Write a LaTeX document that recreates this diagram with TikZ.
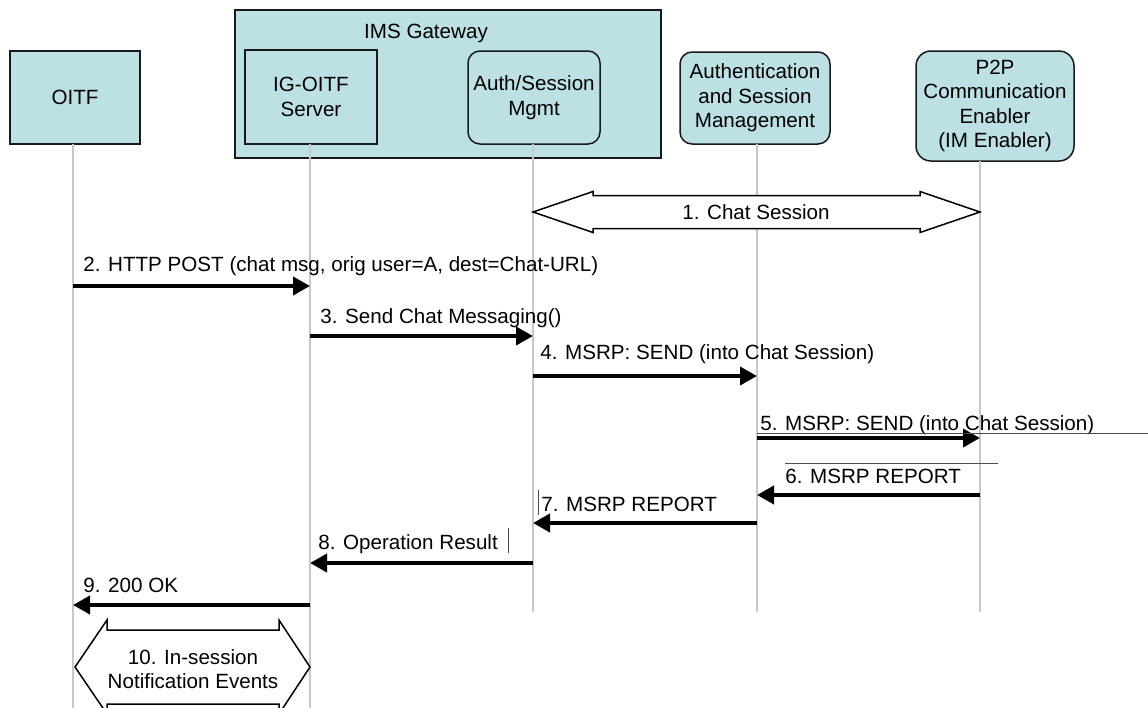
\documentclass[tikz,border=0pt]{standalone}
\usepackage{fontspec}
\setmainfont{Liberation Sans}
\usetikzlibrary{arrows.meta}
\definecolor{boxfill}{RGB}{188,224,228}
\definecolor{lifegray}{RGB}{200,200,200}
\begin{document}
\begin{tikzpicture}[x=0.5pt,y=-0.5pt,
  every node/.style={font=\fontsize{10.3}{12.2}\selectfont},
  entity/.style={draw=black!90,line width=0.75pt,fill=boxfill,align=center,inner sep=0pt},
  rbox/.style={entity,rounded corners=6pt},
  lifeline/.style={draw=lifegray,line width=0.8pt},
  msg/.style={line width=2pt,-{Triangle[length=8.5pt,width=9pt]}},
  lbl/.style={anchor=base west,inner sep=0pt},
  thin/.style={draw=black!70,line width=0.4pt},
  bigarrow/.style={draw=black,line width=0.75pt,fill=white}]
\useasboundingbox (0,0) rectangle (1148,708);
% entities
\node[entity,minimum width=65pt,minimum height=46.5pt] (oitf) at (75,97.5) {OITF};
\node[entity,minimum width=213pt,minimum height=74pt] (imsgw) at (448,84) {};
\node[inner sep=0pt] (imslabel) at (426,33) {IMS Gateway};
\node[entity,minimum width=66pt,minimum height=47pt] (igoitf) at (311,97) {IG-OITF\\Server};
\node[rbox,minimum width=66pt,minimum height=46.5pt] (authgw) at (534,97.5) {Auth/Session\\Mgmt};
\node[rbox,minimum width=75pt,minimum height=46pt] (asm) at (755,98) {Authentication\\and Session\\Management};
\node[rbox,rounded corners=7.5pt,minimum width=79pt,minimum height=55pt] (p2p) at (995,106) {P2P\\Communication\\Enabler\\(IM Enabler)};
% lifeline coordinates
\coordinate (t1) at (73,144);  \coordinate (b1) at (73,708);
\coordinate (t2) at (310,144); \coordinate (b2) at (310,708);
\coordinate (t3) at (533,144); \coordinate (b3) at (533,612);
\coordinate (t4) at (757,144); \coordinate (b4) at (757,612);
\coordinate (t5) at (980,161); \coordinate (b5) at (980,612);
\draw[lifeline] (t1) -- (b1);
\draw[lifeline] (t2) -- (b2);
\draw[lifeline] (t3) -- (b3);
\draw[lifeline] (t4) -- (b4);
\draw[lifeline] (t5) -- (b5);
% 1. chat session double arrow
\draw[bigarrow] (533,212) -- (593,191.5) -- (593,195.5) -- (920,195.5) -- (920,191.5) -- (980,212)
  -- (920,232.5) -- (920,228.5) -- (593,228.5) -- (593,232.5) -- cycle;
\node (l1) at (756,212) {1. Chat Session};
% messages
\coordinate (m2a) at (73,286);  \coordinate (m2b) at (310,286);
\coordinate (m3a) at (310,336); \coordinate (m3b) at (533,336);
\coordinate (m4a) at (533,376); \coordinate (m4b) at (757,376);
\coordinate (m5a) at (757,438); \coordinate (m5b) at (980,438);
\coordinate (m6a) at (980,495); \coordinate (m6b) at (757,495);
\coordinate (m7a) at (757,523); \coordinate (m7b) at (533,523);
\coordinate (m8a) at (533,563); \coordinate (m8b) at (310,563);
\coordinate (m9a) at (310,605); \coordinate (m9b) at (73,605);
\draw[msg] (m2a) -- (m2b);
\draw[msg] (m3a) -- (m3b);
\draw[msg] (m4a) -- (m4b);
\draw[msg] (m5a) -- (m5b);
\draw[msg] (m6a) -- (m6b);
\draw[msg] (m7a) -- (m7b);
\draw[msg] (m8a) -- (m8b);
\draw[msg] (m9a) -- (m9b);
\node[lbl] (l2) at (83,271) {2. HTTP POST (chat msg, orig user=A, dest=Chat-URL)};
\node[lbl] (l3) at (320,323) {3. Send Chat Messaging()};
\node[lbl] (l4) at (540,359) {4. MSRP: SEND (into Chat Session)};
\node[lbl] (l5) at (760,430) {5. MSRP: SEND (into Chat Session)};
\node[lbl] (l6) at (785,483) {6. MSRP REPORT};
\node[lbl] (l7) at (541,511) {7. MSRP REPORT};
\node[lbl] (l8) at (318,549) {8. Operation Result};
\node[lbl] (l9) at (83,592) {9. 200 OK};
% stray thin lines
\coordinate (s5a) at (757,433); \coordinate (s5b) at (1148,433);
\coordinate (s6a) at (785,463); \coordinate (s6b) at (998,463);
\coordinate (s7a) at (538,490); \coordinate (s7b) at (538,515);
\coordinate (s8a) at (508,528); \coordinate (s8b) at (508,553);
\draw[thin] (s5a) -- (s5b);
\draw[thin] (s6a) -- (s6b);
\draw[thin] (s7a) -- (s7b);
\draw[thin] (s8a) -- (s8b);
% 10. in-session notification events
\draw[bigarrow] (75,667) -- (107,620) -- (107,630) -- (279,630) -- (279,620) -- (310,667)
  -- (279,714) -- (279,704) -- (107,704) -- (107,714) -- cycle;
\node[align=center] (l10) at (193,669) {10. In-session\\Notification Events};
\end{tikzpicture}
\end{document}
